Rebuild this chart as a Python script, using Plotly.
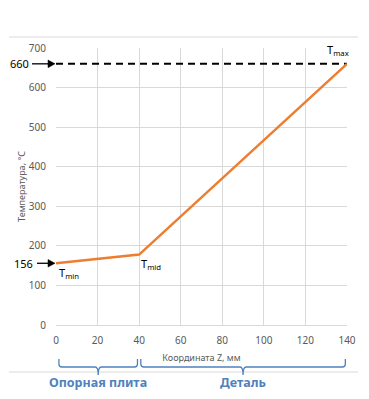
import plotly.graph_objects as go

# Data
z = [0, 40, 140]
temp = [156, 178, 660]
t_max = 660
t_min = 156
x_ticks = [0, 20, 40, 60, 80, 100, 120, 140]
y_ticks = [0, 100, 200, 300, 400, 500, 600, 700]
zone_names = ["Опорная плита", "Деталь"]
zone_bounds = [(0, 40), (40, 140)]

OFF = 8  # page body margin
W, H = 369 - OFF, 399 - OFF
L, T = 56 - OFF, 48 - OFF
PW, PH = 291, 277
R = W - L - PW
B = H - T - PH

def px_to_paper_y(py):
    return (T + PH - (py - OFF)) / PH

def px_to_paper_x(px):
    return (px - OFF - L) / PW

FONT = "Noto Sans"
GRAY = "#595959"
BLUE = "#4f81bd"

fig = go.Figure()
fig.add_trace(go.Scatter(
    x=[z[0], z[-1]], y=[t_max, t_max], mode="lines",
    line=dict(color="black", width=2, dash="7px,5px"), hoverinfo="skip"))
fig.add_trace(go.Scatter(
    x=z, y=temp, mode="lines",
    line=dict(color="#ED7D31", width=2.5), hoverinfo="skip"))

fig.update_layout(
    width=W, height=H, margin=dict(l=L, r=R, t=T, b=B, autoexpand=False),
    paper_bgcolor="white", plot_bgcolor="white", showlegend=False,
    font=dict(family=FONT, size=10, color=GRAY),
)
fig.update_xaxes(range=[0, 140], tickvals=x_ticks, showgrid=True, gridcolor="#d9d9d9",
                 gridwidth=1, zeroline=False, showline=True, linecolor="#d9d9d9",
                 ticks="", ticklabelstandoff=6, tickfont=dict(size=10, color=GRAY),
                 title=dict(text="Координата Z, мм", font=dict(size=9, color=GRAY), standoff=8))
fig.update_yaxes(range=[0, 700], tickvals=y_ticks, showgrid=True, gridcolor="#d9d9d9",
                 gridwidth=1, zeroline=False, showline=False,
                 ticks="", ticklabelstandoff=9, tickfont=dict(size=10, color=GRAY),
                 title=dict(text="Температура, °C", font=dict(size=9, color=GRAY), standoff=1))

# chart frame lines (top/bottom)
for py in (37, 372):
    fig.add_shape(type="line", xref="paper", yref="paper",
                  x0=px_to_paper_x(9), x1=px_to_paper_x(358),
                  y0=px_to_paper_y(py), y1=px_to_paper_y(py),
                  line=dict(color="#d9d9d9", width=1))

# arrows with values
for val, tx, tail in ((t_max, 19, 32), (t_min, 23, 37)):
    tip = 55
    fig.add_shape(type="line", xref="paper", yref="y",
                  x0=px_to_paper_x(tail), x1=px_to_paper_x(tip - 4), y0=val, y1=val,
                  line=dict(color="black", width=1.3))
    dy = 3.8 * 700 / PH
    fig.add_shape(type="path", xref="paper", yref="y",
                  path=(f"M {px_to_paper_x(tip - 7)},{val + dy} L {px_to_paper_x(tip)},{val} "
                        f"L {px_to_paper_x(tip - 7)},{val - dy} Z"),
                  fillcolor="black", line=dict(color="black", width=0.5))
    fig.add_annotation(x=px_to_paper_x(tx), y=val, xref="paper", yref="y",
                       text=str(val), showarrow=False, xanchor="center", yanchor="middle",
                       font=dict(size=11, color="black"))

# T labels
fig.add_annotation(x=z[0], y=temp[0], text="T<sub>min</sub>", showarrow=False,
                   xanchor="left", yanchor="middle", xshift=1, yshift=-10,
                   font=dict(size=11, color="black"))
fig.add_annotation(x=z[1], y=temp[1], text="T<sub>mid</sub>", showarrow=False,
                   xanchor="left", yanchor="middle", xshift=0, yshift=-9,
                   font=dict(size=11, color="black"))
fig.add_annotation(x=z[2], y=t_max, text="T<sub>max</sub>", showarrow=False,
                   xanchor="right", yanchor="middle", xshift=4, yshift=14,
                   font=dict(size=11, color="black"))

# braces
def brace_path(x0, x1):
    kx = 140 / PW
    ytop = px_to_paper_y(359)
    ymid = px_to_paper_y(367)
    ytip = px_to_paper_y(375)
    rx = 3 * kx
    ry = 3 / PH
    xm = (x0 + x1) / 2
    return (f"M {x0},{ytop} L {x0},{ymid + ry} Q {x0},{ymid} {x0 + rx},{ymid} "
            f"L {xm - rx},{ymid} Q {xm},{ymid} {xm},{ytip} "
            f"Q {xm},{ymid} {xm + rx},{ymid} L {x1 - rx},{ymid} "
            f"Q {x1},{ymid} {x1},{ymid + ry} L {x1},{ytop}")

pad = 0.8
for (a, b), name in zip(zone_bounds, zone_names):
    fig.add_shape(type="path", xref="x", yref="paper",
                  path=brace_path(a + pad + (0.6 if a == 0 else 0), b - pad),
                  line=dict(color=BLUE, width=1.3))
    fig.add_annotation(x=(a + b) / 2, y=px_to_paper_y(382), xref="x", yref="paper",
                       text=f"<b>{name}</b>", showarrow=False, xanchor="center", yanchor="middle",
                       font=dict(size=12.5, color=BLUE))

fig.write_html("out.html")
